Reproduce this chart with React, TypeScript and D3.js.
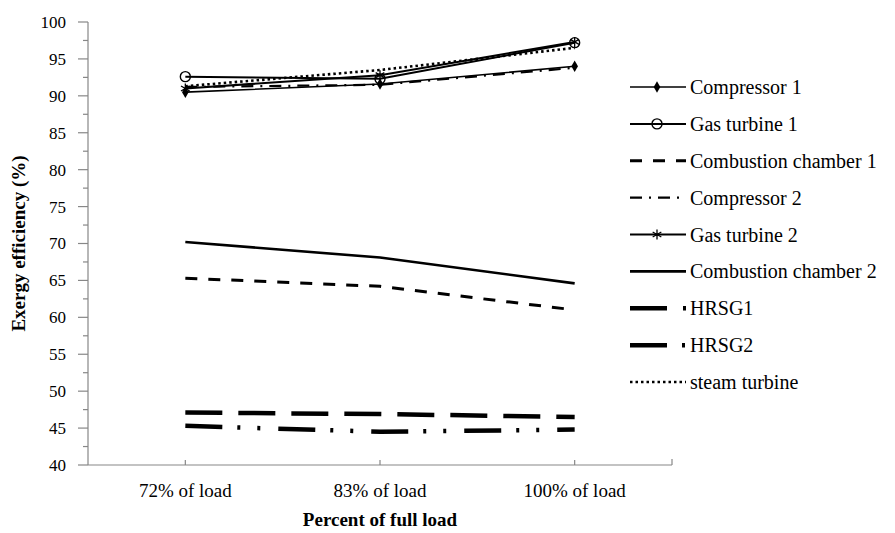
import React from "react";
import * as d3 from "d3";

const W = 895;
const H = 533;

const categories = ["72% of load", "83% of load", "100% of load"];
const yTicks = [40, 45, 50, 55, 60, 65, 70, 75, 80, 85, 90, 95, 100];

const compressor1 = [90.5, 91.6, 94.0];
const gasTurbine1 = [92.6, 92.3, 97.2];
const combustion1 = [65.3, 64.2, 61.0];
const compressor2 = [91.2, 91.5, 93.8];
const gasTurbine2 = [91.0, 92.8, 97.3];
const combustion2 = [70.2, 68.1, 64.6];
const hrsg1 = [47.1, 46.9, 46.5];
const hrsg2 = [45.3, 44.5, 44.8];
const steamTurbine = [91.3, 93.5, 96.5];

type Series = {
  name: string;
  values: number[];
  width: number;
  dash?: string;
  marker?: "diamond" | "circle" | "star";
};

const series: Series[] = [
  { name: "Compressor 1", values: compressor1, width: 1.6, marker: "diamond" },
  { name: "Gas turbine 1", values: gasTurbine1, width: 2, marker: "circle" },
  { name: "Combustion chamber 1", values: combustion1, width: 3, dash: "12 11" },
  { name: "Compressor 2", values: compressor2, width: 2.2, dash: "12 7 2 7" },
  { name: "Gas turbine 2", values: gasTurbine2, width: 2, marker: "star" },
  { name: "Combustion chamber 2", values: combustion2, width: 2.6 },
  { name: "HRSG1", values: hrsg1, width: 4.5, dash: "37 16" },
  { name: "HRSG2", values: hrsg2, width: 4.5, dash: "37 15 3 17 3 18" },
  { name: "steam turbine", values: steamTurbine, width: 2.6, dash: "2.5 3" },
];

const font = "'Liberation Serif', 'Times New Roman', serif";
const axisColor = "#878787";

const Marker = ({ kind, x, y }: { kind?: string; x: number; y: number }) => {
  if (kind === "diamond") {
    return <path d={d3.symbol(d3.symbolDiamond, 38)() ?? ""} transform={`translate(${x},${y})`} fill="#000" />;
  }
  if (kind === "circle") {
    return <circle cx={x} cy={y} r={5} fill="none" stroke="#000" strokeWidth={1.4} />;
  }
  if (kind === "star") {
    return (
      <path
        d={d3.symbol(d3.symbolAsterisk, 70)() ?? ""}
        transform={`translate(${x},${y})`}
        fill="none"
        stroke="#000"
        strokeWidth={1.3}
      />
    );
  }
  return null;
};

export default function App() {
  const x = d3.scaleBand<string>().domain(categories).range([88, 672]).paddingInner(0);
  const cx = (c: string) => (x(c) ?? 0) + x.bandwidth() / 2;
  const y = d3.scaleLinear().domain([40, 100]).range([465, 22]);

  const line = d3
    .line<number>()
    .x((_, i) => cx(categories[i]))
    .y((d) => y(d));

  const minor = d3.range(42.5, 100, 5);
  const legendY = d3.scalePoint<string>().domain(series.map((s) => s.name)).range([87, 382]);

  return (
    <svg
      width={W}
      height={H}
      style={{ position: "absolute", left: 0, top: 0, background: "#fff" }}
      fontFamily={font}
    >
      {/* y axis */}
      <line x1={88} x2={88} y1={y(100)} y2={y(40)} stroke={axisColor} strokeWidth={1.2} />
      {yTicks.map((t) => (
        <g key={t}>
          <line x1={78} x2={88} y1={y(t)} y2={y(t)} stroke={axisColor} strokeWidth={1.2} />
          <text x={66} y={y(t)} dy="0.35em" textAnchor="end" fontSize={17}>
            {t}
          </text>
        </g>
      ))}
      {minor.map((t) => (
        <line key={t} x1={83} x2={88} y1={y(t)} y2={y(t)} stroke={axisColor} strokeWidth={1.2} />
      ))}

      {/* x axis */}
      <line x1={88} x2={672} y1={y(40)} y2={y(40)} stroke={axisColor} strokeWidth={1.2} />
      {categories.map((c) => (
        <g key={c}>
          <line x1={cx(c)} x2={cx(c)} y1={y(40) - 5} y2={y(40)} stroke={axisColor} strokeWidth={1.2} />
          <text x={cx(c)} y={497} textAnchor="middle" fontSize={19}>
            {c}
          </text>
        </g>
      ))}
      <line x1={672} x2={672} y1={y(40) - 6} y2={y(40)} stroke={axisColor} strokeWidth={1.2} />

      <text x={cx(categories[1])} y={526} textAnchor="middle" fontSize={19} fontWeight="bold">
        Percent of full load
      </text>
      <text
        transform={`translate(25,${(y(40) + y(100)) / 2}) rotate(-90)`}
        textAnchor="middle"
        fontSize={19}
        fontWeight="bold"
      >
        Exergy efficiency (%)
      </text>

      {/* series */}
      {series.map((s) => (
        <g key={s.name}>
          <path
            d={line(s.values) ?? ""}
            fill="none"
            stroke="#000"
            strokeWidth={s.width}
            strokeDasharray={s.dash}
          />
          {s.values.map((v, i) => (
            <Marker key={i} kind={s.marker} x={cx(categories[i])} y={y(v)} />
          ))}
        </g>
      ))}

      {/* legend */}
      {series.map((s) => {
        const ly = legendY(s.name) ?? 0;
        return (
          <g key={s.name}>
            <line
              x1={630}
              x2={686}
              y1={ly}
              y2={ly}
              stroke="#000"
              strokeWidth={s.width}
              strokeDasharray={s.dash}
            />
            <Marker kind={s.marker} x={657} y={ly} />
            <text x={690} y={ly} dy="0.35em" fontSize={20}>
              {s.name}
            </text>
          </g>
        );
      })}
    </svg>
  );
}
